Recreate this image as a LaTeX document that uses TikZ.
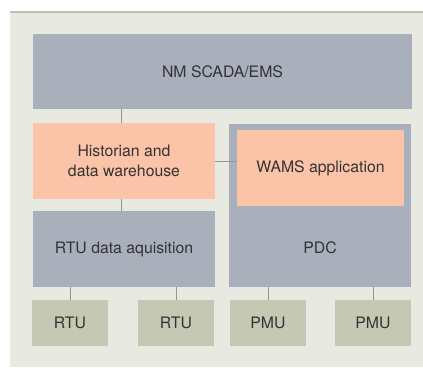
\documentclass[tikz,border=0pt]{standalone}
\usepackage{fontspec}
\setmainfont{TeX Gyre Heros}
\usepackage{xcolor}
\usepackage{tikz}

\definecolor{panelbg}{HTML}{E8E9E1}
\definecolor{panelrule}{HTML}{BCC3AD}
\definecolor{sysgrey}{HTML}{A9AFBB}
\definecolor{appsalmon}{HTML}{FBC3A8}
\definecolor{fieldgreen}{HTML}{C5C9B3}
\definecolor{linkgreen}{HTML}{8C9E89}
\definecolor{labeltext}{HTML}{333333}

\begin{document}
\begin{tikzpicture}[x=1pt,y=-1pt,
    font=\fontsize{15.8}{20}\selectfont,text=labeltext,
    sys node/.style={fill=sysgrey,draw=none,inner sep=0pt,align=center},
    app node/.style={fill=appsalmon,draw=none,inner sep=0pt,align=center},
    field node/.style={fill=fieldgreen,draw=none,inner sep=0pt,minimum width=76,minimum height=46},
    link/.style={draw=linkgreen,line width=1pt}]
    \useasboundingbox (0,0) rectangle (423,367);
    % panel
    \fill[panelbg] (10,12) rectangle (423,367);
    \draw[panelrule,line width=1.5pt] (10,12) -- (423,12);

    \node[sys node,minimum width=379,minimum height=75] (scada) at (222.5,71.5) {NM SCADA/EMS};
    \node[app node,minimum width=182,minimum height=76] (hist) at (124,161) {Historian and\\data warehouse};
    \node[sys node,minimum width=182,minimum height=76] (rtuacq) at (124,249) {RTU data aquisition};
    \node[sys node,minimum width=182,minimum height=163,
      label={[inner sep=0pt,yshift=-42]center:PDC}] (pdc) at (320,205.5) {};
    \node[app node,minimum width=167,minimum height=76] (wams) at (320.5,168) {WAMS application};

    \node[field node] (rtu1) at (70,323) {RTU};
    \node[field node] (rtu2) at (176,323) {RTU};
    \node[field node] (pmu1) at (268,323) {PMU};
    \node[field node] (pmu2) at (373,323) {PMU};

    \path[link]
    (scada.south -| 121,0) edge (hist.north -| 121,0)
    (hist.south -| 121,0) edge (rtuacq.north -| 121,0)
    (hist.east) edge (hist.east -| wams.west)
    (rtuacq.south -| rtu1) edge (rtu1)
    (rtuacq.south -| rtu2) edge (rtu2)
    (pdc.south -| pmu1) edge (pmu1)
    (pdc.south -| pmu2) edge (pmu2);
  \end{tikzpicture}
\end{document}
